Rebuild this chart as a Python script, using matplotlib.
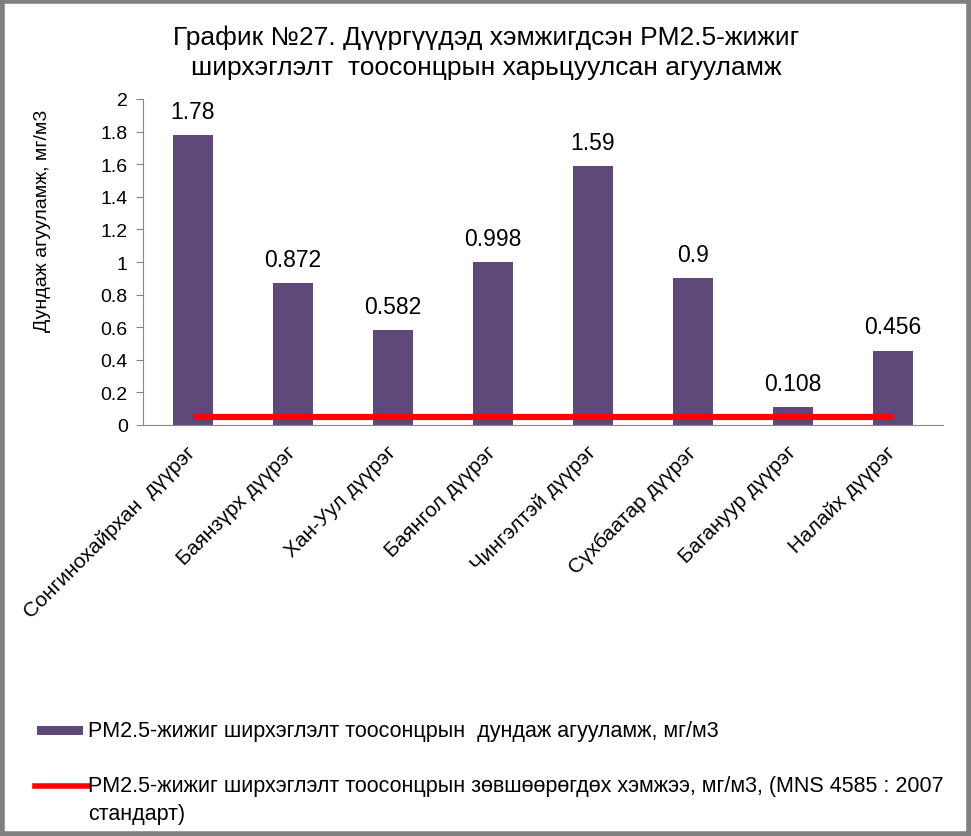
import matplotlib
matplotlib.use("Agg")
import matplotlib.pyplot as plt
from matplotlib.patches import Rectangle
from matplotlib.lines import Line2D

plt.rcParams['font.family'] = ['Liberation Sans', 'DejaVu Sans']

categories = ["Сонгинохайрхан  дүүрэг", "Баянзүрх дүүрэг", "Хан-Уул дүүрэг", "Баянгол дүүрэг",
              "Чингэлтэй дүүрэг", "Сүхбаатар дүүрэг", "Багануур дүүрэг", "Налайх дүүрэг"]
values = [1.78, 0.872, 0.582, 0.998, 1.59, 0.9, 0.108, 0.456]
value_labels = ["1.78", "0.872", "0.582", "0.998", "1.59", "0.9", "0.108", "0.456"]
standard = [0.05] * len(categories)
yticks = [0, 0.2, 0.4, 0.6, 0.8, 1, 1.2, 1.4, 1.6, 1.8, 2]
ytick_labels = ["0", "0.2", "0.4", "0.6", "0.8", "1", "1.2", "1.4", "1.6", "1.8", "2"]
title_lines = ["График №27. Дүүргүүдэд хэмжигдсэн PM2.5-жижиг",
               "ширхэглэлт  тоосонцрын харьцуулсан агууламж"]
ylabel = "Дундаж агууламж, мг/м3"
legend_bar = "PM2.5-жижиг ширхэглэлт тоосонцрын  дундаж агууламж, мг/м3"
legend_line = ["PM2.5-жижиг ширхэглэлт тоосонцрын зөвшөөрөгдөх хэмжээ, мг/м3, (MNS 4585 : 2007",
               "стандарт)"]

W, H = 971, 837
fig = plt.figure(figsize=(W / 100, H / 100), dpi=100)
fig.patch.set_facecolor('white')

def fx(px):
    return px / W

def fy(py):
    return 1 - py / H

ax = fig.add_axes([fx(143), fy(426), 800 / W, 326 / H])
x = list(range(len(categories)))
bar_color = '#5F497A'
ax.bar(x, values, width=0.40, color=bar_color, zorder=2)
ax.plot(x, standard, color='#FF0000', linewidth=4.5, zorder=3, solid_capstyle='butt')
for xi, v, lab in zip(x, values, value_labels):
    ax.text(xi, v + 0.075, lab, ha='center', va='bottom', fontsize=16.5)

ax.set_xlim(-0.5, len(categories) - 0.5)
ax.set_ylim(0, 2)
ax.set_yticks(yticks)
ax.set_yticklabels(ytick_labels, fontsize=14)
ax.set_xticks(x)
ax.set_xticklabels(categories, rotation=45, ha='right', va='center', rotation_mode='anchor', fontsize=15)
ax.tick_params(axis='x', length=0, pad=17)
ax.tick_params(axis='y', length=5, direction='out', color='#868686', pad=6)
for s in ['top', 'right']:
    ax.spines[s].set_visible(False)
ax.spines['left'].set_color('#868686')
ax.spines['bottom'].set_color('#868686')

fig.text(fx(43), fy(221), ylabel, rotation=90, ha='center', va='center', fontsize=14)

fig.text(fx(486), fy(45), title_lines[0], ha='center', va='baseline', fontsize=19)
fig.text(fx(486), fy(75), title_lines[1], ha='center', va='baseline', fontsize=19)

# legend
fig.patches.append(Rectangle((fx(37), fy(736)), 46 / W, 9 / H, transform=fig.transFigure,
                             facecolor=bar_color, edgecolor='none'))
fig.text(fx(88), fy(732), legend_bar, ha='left', va='center', fontsize=15.5)
fig.lines.append(Line2D([fx(35), fx(88)], [fy(787), fy(787)], transform=fig.transFigure,
                        color='#FF0000', linewidth=4))
fig.text(fx(88), fy(787), legend_line[0], ha='left', va='center', fontsize=15.5)
fig.text(fx(88), fy(815), legend_line[1], ha='left', va='center', fontsize=15.5)

# figure border
fig.patches.append(Rectangle((0.002, 0.002), 0.996, 0.996, transform=fig.transFigure,
                             facecolor='none', edgecolor='#808080', linewidth=4))

fig.savefig('out.png', dpi=100)
